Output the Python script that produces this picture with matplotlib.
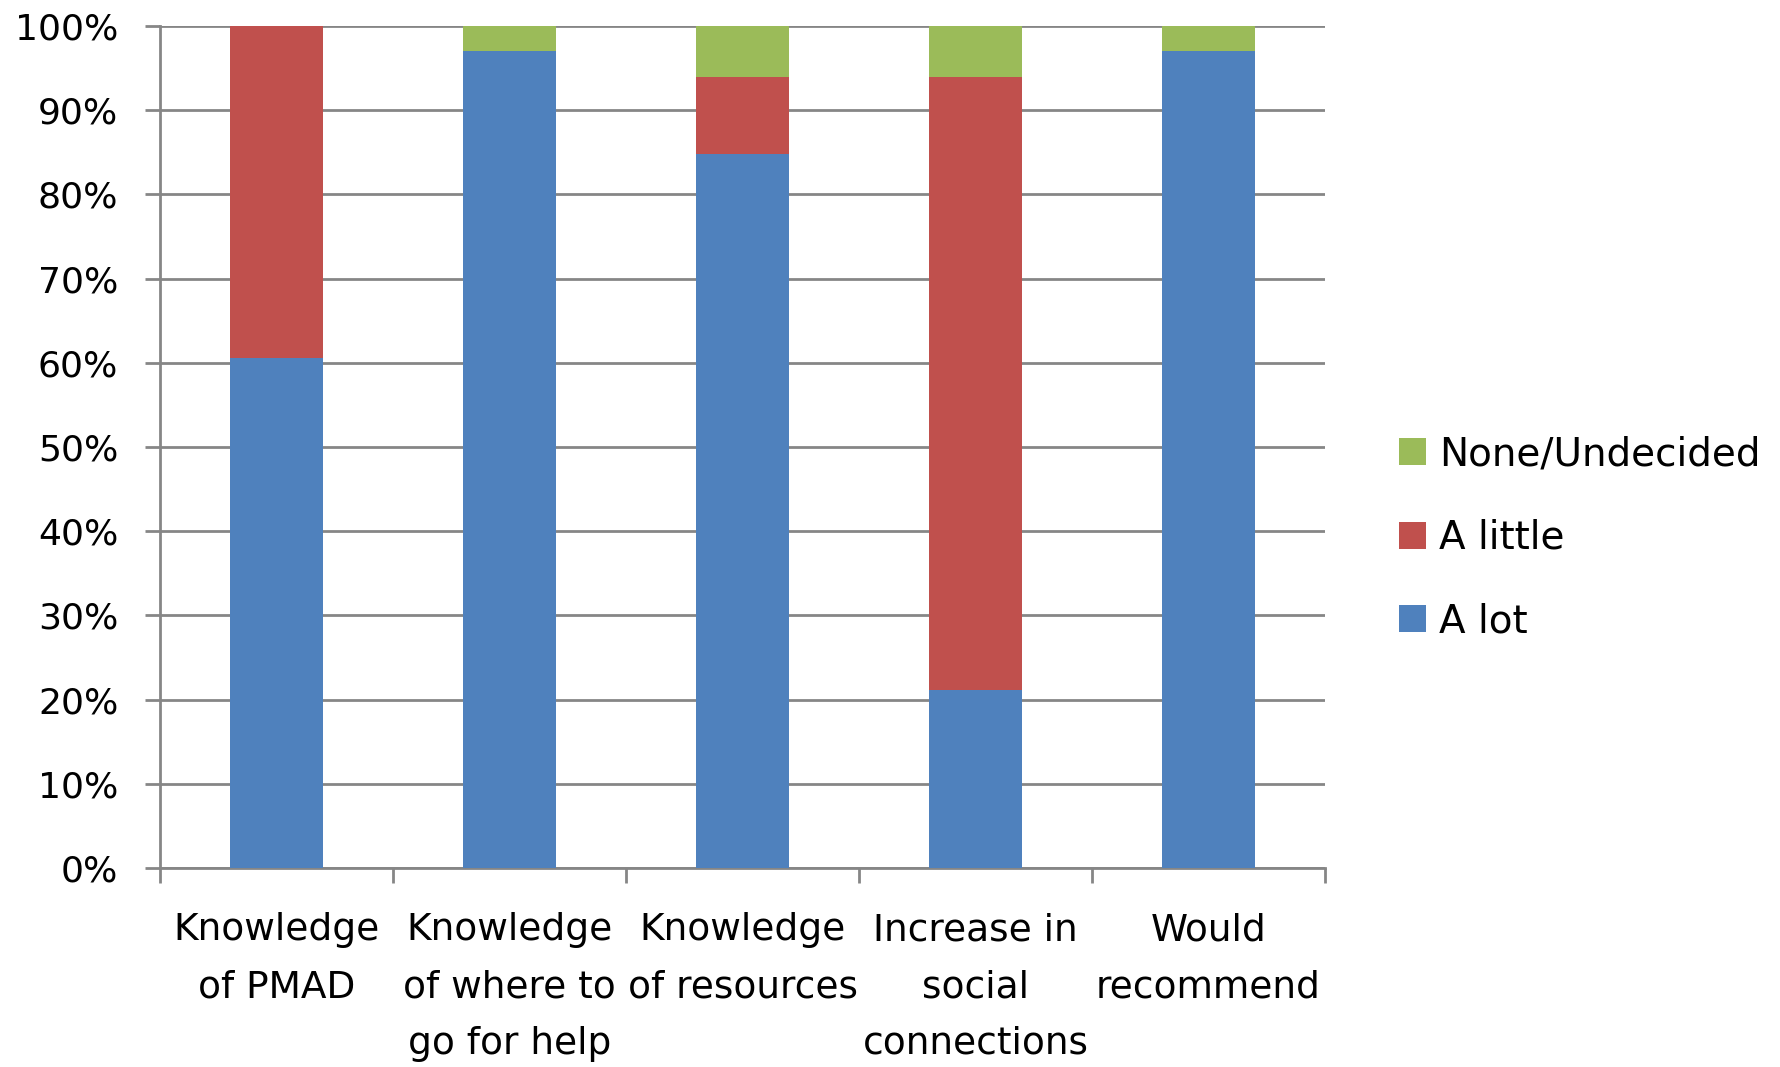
import matplotlib
matplotlib.use("Agg")
import matplotlib.pyplot as plt
from matplotlib.ticker import FixedLocator, FuncFormatter
import numpy as np

categories = ["Knowledge\nof PMAD", "Knowledge\nof where to\ngo for help",
              "Knowledge\nof resources", "Increase in\nsocial\nconnections",
              "Would\nrecommend"]
a_lot = [60.6, 97.0, 84.8, 21.2, 97.0]
a_little = [39.4, 0.0, 9.1, 72.7, 0.0]
none_undecided = [0.0, 3.0, 6.1, 6.1, 3.0]
series_names = ["A lot", "A little", "None/Undecided"]
colors = ["#4F81BD", "#C0504D", "#9BBB59"]
yticks = [0, 10, 20, 30, 40, 50, 60, 70, 80, 90, 100]

fig = plt.figure(figsize=(17.8, 10.67), dpi=100)
ax = fig.add_axes([0.0899, 0.1865, 0.7444 - 0.0899, 0.9756 - 0.1865])

x = np.arange(len(categories))
w = 0.4
b1 = ax.bar(x, a_lot, w, color=colors[0], zorder=3)
b2 = ax.bar(x, a_little, w, bottom=a_lot, color=colors[1], zorder=3)
bottom3 = np.array(a_lot) + np.array(a_little)
b3 = ax.bar(x, none_undecided, w, bottom=bottom3, color=colors[2], zorder=3)

ax.set_xlim(-0.5, len(categories) - 0.5)
ax.set_ylim(0, 100)
ax.yaxis.set_major_locator(FixedLocator(yticks))
ax.yaxis.set_major_formatter(FuncFormatter(lambda v, p: f"{int(v)}%"))
ax.grid(axis="y", color="#868686", linewidth=2, zorder=0)
ax.set_axisbelow(True)

for s in ["top", "right"]:
    ax.spines[s].set_visible(False)
for s in ["left", "bottom"]:
    ax.spines[s].set_color("#868686")
    ax.spines[s].set_linewidth(2)

ax.set_xticks(x)
ax.set_xticklabels(categories, fontsize=27, linespacing=1.74, color="black")
ax.tick_params(axis="x", which="major", length=0, pad=32)
ax.set_xticks(np.arange(-0.5, len(categories)), minor=True)
ax.tick_params(axis="x", which="minor", length=11, width=2, color="#868686", direction="out")
ax.tick_params(axis="y", length=11, width=2, color="#868686", labelsize=26, pad=19)

handles = [b3, b2, b1]
labels = [series_names[2], series_names[1], series_names[0]]
leg = ax.legend(handles, labels, loc="center left", bbox_to_anchor=(1.0465, 0.392),
                frameon=False, fontsize=28, handlelength=0.7, handleheight=0.7,
                handletextpad=0.35, labelspacing=1.17, borderpad=0)

fig.savefig("out.png", dpi=100)
